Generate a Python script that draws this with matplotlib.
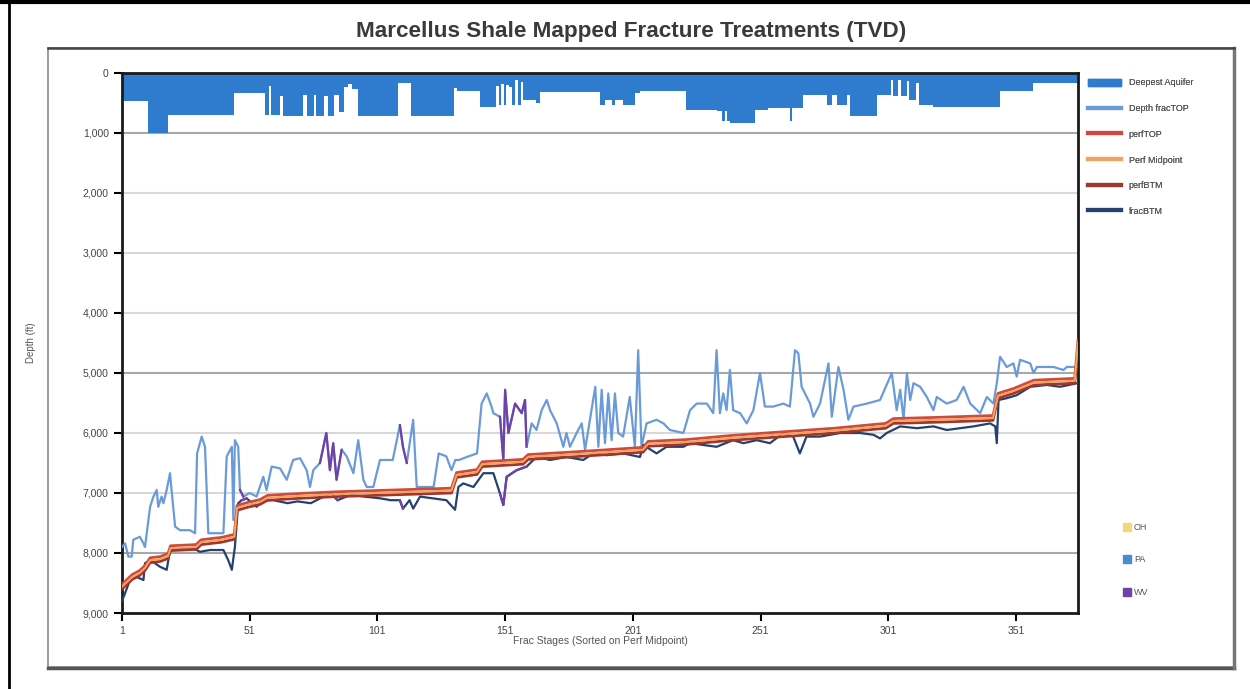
import matplotlib.pyplot as plt
from matplotlib.patches import Rectangle, Patch
from matplotlib.lines import Line2D

plt.rcParams["font.family"] = ["Liberation Sans", "DejaVu Sans"]

# deepest aquifer depth, step values starting at each stage
aq_stage = [1, 11, 19, 45, 57, 58.5, 59.5, 63, 64, 72, 73.5, 76, 77, 80, 81.5,
            84, 86, 88, 89.5, 91, 93.5, 109, 114, 131, 132, 141,
            147.5, 148.5, 149.5, 150.5, 151.5, 152.5, 153.5, 155, 156, 157.3, 158,
            163, 164.6, 188, 190, 193, 194, 197, 198, 202, 204, 222, 234, 236,
            237, 238, 239, 249, 254, 262.5, 263.5, 267.6, 277, 279, 281, 285,
            286, 296.6, 302, 303, 305, 306, 308.2, 309.3, 311.8, 313, 318.5,
            344.8, 357.7, 375.3]
aq_depth = [460, 1000, 700, 330, 700, 220, 700, 380, 720, 360, 720, 360, 720, 380, 720,
            360, 650, 240, 180, 260, 720, 170, 720, 250, 305, 570,
            222, 528, 183, 528, 200, 233, 528, 111, 528, 150, 445,
            500, 317, 535, 450, 530, 450, 530, 530, 330, 295, 610, 630, 800,
            630, 800, 830, 610, 583, 800, 583, 360, 528, 360, 528, 360,
            720, 360, 110, 390, 110, 390, 140, 450, 170, 530, 570,
            295, 167, 167]

# Depth fracTOP
top_stage = [1, 2.2, 3.5, 4.8, 5.4, 8, 9.4, 10, 12, 13.3, 14.6, 15.2, 16.5, 17.2, 18.5,
             19.8, 20.4, 21.8, 23.7, 27.6, 29.6, 30.4, 32.2, 33.5, 34.8, 40.7, 42,
             44, 44.6, 45.2, 46.5, 47.2, 48.5, 51, 53.7, 56.3, 57.6, 59.6, 62.9,
             65.5, 68, 70.7, 73.3, 74.6, 75.9, 78.5, 81, 82.4, 83.7, 85, 87, 89,
             91.6, 93.5, 95.5, 96.8, 99.4, 102, 107, 109.8, 111, 112.5, 115, 116.4,
             123, 125, 128, 130, 131.5, 133, 136, 140, 141.8, 143.8, 145.7, 146.4,
             149, 150.3, 151, 152.3, 154.9, 157.5, 158.8, 159.4, 161.4, 163.3,
             165.3, 167.3, 168.6, 171.2, 173.8, 175, 176.4, 179, 181, 182.3, 186.3,
             187.5, 188.8, 190.1, 191.4, 192.7, 194, 195.3, 197.2, 199.8, 201.8,
             203.1, 204.4, 206.4, 210.3, 213, 215.5, 220.8, 223.4, 226, 230, 232.5,
             233.8, 235.1, 236.4, 237.7, 239, 240.3, 243, 245.6, 248.2, 250.8,
             252.7, 256, 259.9, 262.5, 264.5, 265.8, 267.1, 270.4, 271.7, 274.3,
             277.6, 278.9, 281.5, 283.5, 285.4, 287.4, 292.6, 297.8, 302.4, 304.3,
             305.7, 307, 308.3, 309.6, 310.9, 313.5, 316.1, 318.7, 320, 323.9,
             327.8, 330.5, 333.1, 337, 339.6, 342.2, 343.5, 344.8, 347.4, 350,
             351.3, 352.6, 356.6, 357.9, 359.2, 365.7, 369.6, 370.9, 375]
top_depth = [7900, 7840, 8060, 8060, 7780, 7730, 7840, 7900, 7230, 7060, 6950, 7230, 7060, 7170, 6950,
             6670, 6950, 7560, 7620, 7620, 7670, 6340, 6060, 6230, 7670, 7670, 6390,
             6230, 7450, 6120, 6230, 6950, 7060, 7000, 7060, 6730, 6950, 6560, 6590,
             6780, 6450, 6420, 6620, 6900, 6620, 6500, 6000, 6620, 6170, 6780, 6280, 6390,
             6670, 6120, 6780, 6900, 6900, 6450, 6450, 5870, 6230, 6500, 5780, 6900,
             6900, 6340, 6390, 6620, 6450, 6450, 6400, 6340, 5510, 5340, 5560, 5670,
             5730, 6450, 5280, 6000, 5510, 5670, 5450, 6230, 5840, 5950,
             5620, 5450, 5620, 5840, 6230, 6000, 6230, 6000, 5840, 6280, 5230,
             6230, 5280, 6170, 5340, 6120, 5340, 6000, 6060, 5400, 6230,
             4620, 6230, 5840, 5780, 5840, 5950, 6000, 5620, 5510, 5510, 5670,
             4620, 5670, 5340, 5620, 4950, 5620, 5670, 5840, 5620, 5000,
             5560, 5560, 5510, 5560, 4620, 4670, 5230, 5510, 5730, 5510,
             4840, 5730, 4900, 5280, 5780, 5560, 5510, 5450, 5000, 5620,
             5280, 5780, 5000, 5450, 5170, 5230, 5400, 5620, 5400, 5510,
             5450, 5230, 5510, 5670, 5400, 5510, 5170, 4730, 4900, 4840,
             5060, 4780, 4840, 5000, 4900, 4900, 4950, 4900, 4900]

# fracBTM
btm_stage = [1, 2.2, 4.1, 6.7, 9.4, 10, 12, 13.9, 15.9, 18.5, 19.8, 28.9, 31.5, 35.5,
             40.7, 42.6, 44, 45.2, 46.5, 47.9, 49.8, 53.7, 56.3, 60.3, 65.8, 69.7,
             74.9, 80, 82.7, 85.4, 90.6, 95.8, 102.3, 106.2, 109.8, 111, 113.6, 115,
             117.7, 128, 131.4, 132.7, 134.6, 138.6, 142.5, 146.4, 149, 150.3, 151.6,
             155.5, 159.4, 163.3, 168.6, 175, 181.6, 185.5, 190.7, 197.2, 203.8,
             205.1, 210.3, 214.2, 220.8, 223.4, 233.8, 240.3, 244.3, 249.5, 254.7,
             259.9, 263.8, 266.4, 269, 274.3, 282.2, 290, 295.2, 297.8, 300.4,
             305.7, 312.2, 318.7, 323.9, 329.1, 334.4, 340.9, 342.9, 343.5, 344.2,
             347.4, 351.3, 356.6, 363.1, 368.3, 375]
btm_depth = [8800, 8670, 8450, 8400, 8450, 8170, 8120, 8170, 8230, 8280, 7950, 7920, 7980, 7950,
             7950, 8120, 8280, 7900, 7170, 7120, 7090, 7230, 7120, 7120, 7170, 7140,
             7170, 7060, 7000, 7120, 7030, 7060, 7090, 7120, 7120, 7260, 7120, 7260,
             7060, 7120, 7280, 6900, 6840, 6900, 6670, 6670, 7010, 7200, 6730,
             6620, 6560, 6400, 6450, 6400, 6450, 6340, 6370, 6340, 6400,
             6200, 6340, 6230, 6230, 6170, 6230, 6120, 6170, 6120, 6170,
             6000, 6060, 6340, 6060, 6060, 6000, 6000, 6030, 6090, 6000,
             5890, 5920, 5890, 5950, 5920, 5890, 5840, 5890, 6170, 5450,
             5420, 5370, 5230, 5200, 5230, 5170]

# perforation lines
perf_stage = [1, 3, 5, 8, 10, 12, 16, 19, 20, 30, 32, 40, 45, 46, 50, 55, 58, 70, 85,
              100, 115, 130, 132, 140, 142, 158, 160, 180, 205, 207, 222, 240, 260,
              280, 300, 303, 320, 342, 344, 350, 358, 374, 375.3]
perf_mid = [8560, 8480, 8400, 8330, 8250, 8120, 8100, 8050, 7920, 7900, 7820, 7780, 7730, 7250,
            7200, 7150, 7080, 7050, 7020, 7000, 6980, 6960, 6700, 6650, 6520, 6480, 6400,
            6350, 6280, 6180, 6150, 6080, 6020, 5960, 5880, 5800, 5780, 5750, 5380, 5300,
            5160, 5130, 4500]
perf_top = [8520, 8440, 8360, 8290, 8210, 8080, 8060, 8010, 7880, 7860, 7780, 7740, 7690, 7210,
            7160, 7110, 7040, 7010, 6980, 6960, 6940, 6920, 6660, 6610, 6480, 6440, 6360,
            6310, 6240, 6140, 6110, 6040, 5980, 5920, 5840, 5760, 5740, 5710, 5340, 5260,
            5120, 5090, 4450]
perf_btm = [8600, 8520, 8440, 8370, 8290, 8160, 8140, 8090, 7960, 7940, 7860, 7820, 7770, 7290,
            7240, 7190, 7120, 7090, 7060, 7040, 7020, 7000, 6740, 6690, 6560, 6520, 6440,
            6390, 6320, 6220, 6190, 6120, 6060, 6000, 5920, 5840, 5820, 5790, 5420, 5340,
            5200, 5170, 4600]

# stage ranges from West Virginia wells
wv_ranges = [(47, 50), (78, 88), (109, 113), (147, 160)]

x_ticks = [1, 51, 101, 151, 201, 251, 301, 351]
y_ticks = [0, 1000, 2000, 3000, 4000, 5000, 6000, 7000, 8000, 9000]

c_aq = "#2f7bcd"
c_top = "#6a9bd8"
c_ptop = "#cc4b3c"
c_pmid = "#f2a35e"
c_pbtm = "#a2352c"
c_btm = "#24426f"
c_wv = "#6e42a6"

fig = plt.figure(figsize=(12.5, 6.89), dpi=100)

# outer frame and panel
fig.add_artist(Line2D([0.0068, 0.0068], [0, 1], color="black", lw=2))
fig.add_artist(Line2D([0, 1], [0.997, 0.997], color="black", lw=3))
fig.add_artist(Rectangle((0.0384, 0.032), 0.9488, 0.898, fill=False,
                         edgecolor="#8a8a8a", lw=1.2))
fig.add_artist(Line2D([0.0384, 0.9872], [0.031, 0.031], color="#555555", lw=2.5))
fig.add_artist(Line2D([0.9875, 0.9875], [0.031, 0.93], color="#777777", lw=2.5))
fig.add_artist(Line2D([0.0384, 0.9872], [0.93, 0.93], color="#444444", lw=1.8))

fig.text(0.505, 0.955, "Marcellus Shale Mapped Fracture Treatments (TVD)",
         ha="center", va="center", fontsize=16.2, fontweight="bold", color="#3a3a3a")

ax = fig.add_axes([0.0976, 0.1103, 0.7648, 0.7838])

ax.fill_between(aq_stage, 0, aq_depth, step="post", color=c_aq, lw=0, zorder=2)

for yv in y_ticks[1:-1]:
    gc = "#a8a8a8" if yv in (1000, 5000, 8000) else "#d8d8d8"
    ax.axhline(yv, color=gc, lw=1.5, zorder=1)

ax.plot(top_stage, top_depth, color=c_top, lw=1.6, zorder=3)
ax.plot(btm_stage, btm_depth, color=c_btm, lw=1.6, zorder=3)

# WV portions drawn purple
for lo, hi in wv_ranges:
    for xs, ys in ((top_stage, top_depth), (btm_stage, btm_depth)):
        sx = [s for s in xs if lo <= s <= hi]
        sy = [d for s, d in zip(xs, ys) if lo <= s <= hi]
        ax.plot(sx, sy, color=c_wv, lw=1.6, zorder=4)

ax.plot(perf_stage, perf_btm, color=c_pbtm, lw=2, zorder=5)
ax.plot(perf_stage, perf_top, color=c_ptop, lw=2, zorder=5)
ax.plot(perf_stage, perf_mid, color=c_pmid, lw=1.5, zorder=6)

ax.set_xlim(1, 375.3)
ax.set_ylim(9000, 0)
ax.set_xticks(x_ticks)
ax.set_yticks(y_ticks)
ax.set_yticklabels([f"{v:,}" for v in y_ticks])
ax.tick_params(axis="both", direction="out", length=6, width=1.5, colors="black",
               labelsize=7.5, labelcolor="#444444")
for sp in ax.spines.values():
    sp.set_linewidth(2)
    sp.set_color("#1a1a1a")
ax.set_xlabel("Frac Stages (Sorted on Perf Midpoint)", fontsize=7.5, color="#555555", labelpad=0)
ax.set_ylabel("Depth (ft)", fontsize=7, color="#555555", labelpad=34)

h1 = [Patch(facecolor=c_aq, edgecolor=c_aq),
      Line2D([], [], color=c_top, lw=3),
      Line2D([], [], color=c_ptop, lw=3),
      Line2D([], [], color=c_pmid, lw=3),
      Line2D([], [], color=c_pbtm, lw=3),
      Line2D([], [], color=c_btm, lw=3)]
l1 = ["Deepest Aquifer", "Depth fracTOP", "perfTOP", "Perf Midpoint", "perfBTM", "fracBTM"]
leg1 = fig.legend(h1, l1, loc="upper left", bbox_to_anchor=(0.864, 0.898), frameon=False,
                  fontsize=6.5, labelcolor="#555555", handlelength=3.6, handleheight=0.9,
                  labelspacing=1.85, handletextpad=0.9)
fig.add_artist(leg1)

h2 = [Line2D([], [], marker="s", ls="none", color="#f4d77a", markersize=6),
      Line2D([], [], marker="s", ls="none", color="#4c8ad0", markersize=6),
      Line2D([], [], marker="s", ls="none", color=c_wv, markersize=6)]
fig.legend(h2, ["OH", "PA", "WV"], loc="upper left", bbox_to_anchor=(0.892, 0.253),
           frameon=False, fontsize=6.5, labelcolor="#555555", handlelength=0.8,
           labelspacing=2.6, handletextpad=0.4)

fig.savefig("out.png", dpi=100)
